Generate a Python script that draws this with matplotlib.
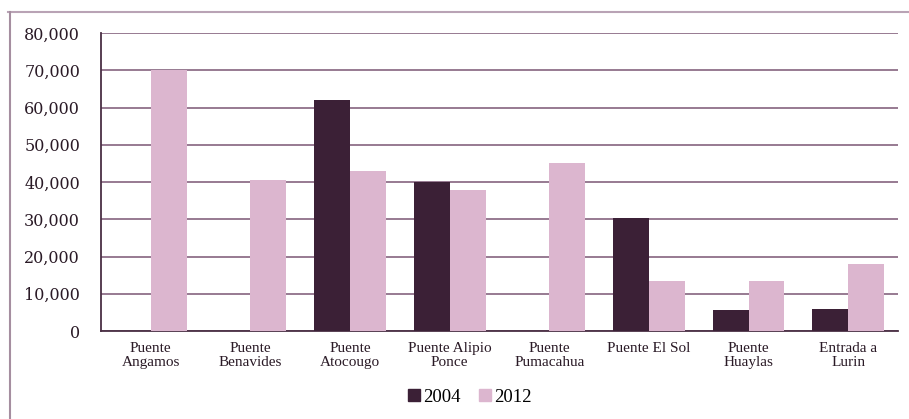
import matplotlib
matplotlib.use("Agg")
import matplotlib.pyplot as plt
import numpy as np
from matplotlib.lines import Line2D
from matplotlib.ticker import FuncFormatter

categories = ["Puente\nAngamos", "Puente\nBenavides", "Puente\nAtocougo",
              "Puente Alipio\nPonce", "Puente\nPumacahua", "Puente El Sol",
              "Puente\nHuaylas", "Entrada a\nLurin"]
series_labels = ["2004", "2012"]
values_2004 = [0, 0, 62000, 40000, 0, 30300, 5600, 6000]
values_2012 = [70000, 40500, 43000, 38000, 45000, 13500, 13500, 18000]
y_ticks = [0, 10000, 20000, 30000, 40000, 50000, 60000, 70000, 80000]

dark = "#3b2036"
pink = "#dcb6cf"
grid_col = "#8f7089"

plt.rcParams["font.family"] = ["Liberation Serif", "DejaVu Serif"]

fig = plt.figure(figsize=(9.09, 4.19), dpi=100)
ax = fig.add_axes([0.111, 0.21, 0.877, 0.711])

x = np.arange(len(categories))
w = 0.36
ax.bar(x - w / 2, values_2004, width=w, color=dark, zorder=3, label=series_labels[0])
ax.bar(x + w / 2, values_2012, width=w, color=pink, zorder=3, label=series_labels[1])

ax.set_xlim(-0.5, len(categories) - 0.5)
ax.set_ylim(0, 80000)
ax.set_yticks(y_ticks)
ax.yaxis.set_major_formatter(FuncFormatter(lambda v, p: "0" if v == 0 else f"{int(v):,}"))
ax.yaxis.grid(True, color=grid_col, linewidth=1.3, zorder=0)
ax.set_xticks(x)
ax.set_xticklabels(categories, fontsize=11, linespacing=1.1)
ax.tick_params(axis="both", length=0)
ax.tick_params(axis="y", pad=15, colors="#2a1a26")
for lbl in ax.get_yticklabels():
    lbl.set_fontfamily(["DejaVu Serif"])
    lbl.set_fontsize(11.5)
ax.tick_params(axis="x", pad=8, colors="#2a1a26")

for s in ["top", "right"]:
    ax.spines[s].set_visible(False)
for s in ["left", "bottom"]:
    ax.spines[s].set_color("#4a2f44")
    ax.spines[s].set_linewidth(1.3)

handles = [Line2D([], [], marker="s", linestyle="none", markersize=8, color=dark),
           Line2D([], [], marker="s", linestyle="none", markersize=8, color=pink)]
fig.legend(handles, series_labels, loc="center", bbox_to_anchor=(0.514, 0.052),
           ncol=2, frameon=False, fontsize=13.5, handletextpad=-0.1,
           columnspacing=0.7, handlelength=1.2)

# outer frame (top and left edges)
fig.add_artist(Line2D([0.009, 1.0], [0.971, 0.971], color="#b9a3b5", linewidth=1.5,
                      transform=fig.transFigure))
fig.add_artist(Line2D([0.011, 0.011], [0.0, 0.971], color="#a58ea0", linewidth=1.5,
                      transform=fig.transFigure))

fig.savefig("out.png", dpi=100)
